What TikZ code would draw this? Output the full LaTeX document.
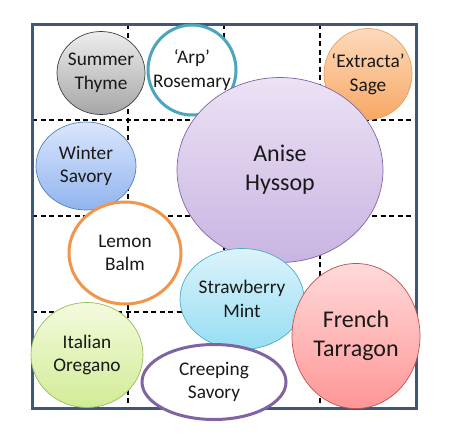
\documentclass[tikz,border=0pt]{standalone}
\usepackage{fontspec}
\setmainfont{Carlito}
\usetikzlibrary{shapes.geometric}
\definecolor{framec}{RGB}{62,88,122}
\tikzset{
  gridline/.style={black, line width=1.1pt, dash pattern=on 5pt off 3.5pt},
  blob/.style={ellipse, inner sep=0pt},
  lbl/.style={align=center, text=black!90, font=\fontsize{19.3}{23.5}\selectfont},
  biglbl/.style={align=center, text=black!90, font=\fontsize{24}{29}\selectfont},
}
\begin{document}
\begin{tikzpicture}[x=1pt,y=-1pt]
\useasboundingbox (0,0) rectangle (450,440);
% grid
\foreach \v in {128,224,320}{
  \draw[gridline] (\v,24) -- (\v,408);
  \draw[gridline] (32,\v-8) -- (416,\v-8);
}
% frame
\draw[framec, line width=3pt] (32,24) rectangle (416,408);
% circles
\node[blob, draw=black!75, line width=0.7pt, top color=black!7, bottom color=black!35, minimum width=88pt, minimum height=83pt] (thyme) at (101,73) {};
\node[lbl] at (thyme) {Summer\\Thyme};
\node[blob, draw={rgb,255:red,75;green,165;blue,190}, line width=3pt, fill=white, minimum width=88pt, minimum height=90pt] (rosemary) at (192,70) {};
\node[lbl] at (rosemary) {‘Arp’\\Rosemary};
\node[blob, draw={rgb,255:red,230;green,160;blue,100}, line width=0.7pt, top color={rgb,255:red,253;green,218;blue,188}, bottom color={rgb,255:red,247;green,168;blue,100}, minimum width=88pt, minimum height=91pt] (sage) at (368,74) {};
\node[lbl] at (sage) {‘Extracta’\\Sage};
\node[blob, draw={rgb,255:red,128;green,100;blue,162}, line width=0.7pt, top color={rgb,255:red,236;green,226;blue,245}, bottom color={rgb,255:red,200;green,180;blue,226}, minimum width=206pt, minimum height=185pt] (hyssop) at (280,170) {};
\node[biglbl] at (hyssop) {Anise\\Hyssop};
\node[blob, draw={rgb,255:red,79;green,129;blue,189}, line width=0.7pt, top color={rgb,255:red,218;green,230;blue,252}, bottom color={rgb,255:red,145;green,180;blue,238}, minimum width=100pt, minimum height=88pt] (winter) at (86,166) {};
\node[lbl] at (winter) {Winter\\Savory};
\node[blob, draw={rgb,255:red,240;green,150;blue,75}, line width=3pt, fill=white, minimum width=112pt, minimum height=102pt] (lemon) at (125,253) {};
\node[lbl] at (lemon) {Lemon\\Balm};
\node[blob, draw={rgb,255:red,75;green,172;blue,198}, line width=0.7pt, top color={rgb,255:red,220;green,243;blue,251}, bottom color={rgb,255:red,150;green,222;blue,243}, minimum width=124pt, minimum height=101pt] (mint) at (242,299) {};
\node[lbl] at (mint) {Strawberry\\Mint};
\node[blob, draw={rgb,255:red,155;green,187;blue,89}, line width=0.7pt, top color={rgb,255:red,243;green,250;blue,222}, bottom color={rgb,255:red,210;green,236;blue,150}, minimum width=112pt, minimum height=105pt] (oregano) at (87,355) {};
\node[lbl] at (oregano) {Italian\\Oregano};
\node[blob, draw={rgb,255:red,128;green,100;blue,162}, line width=3pt, fill=white, minimum width=144pt, minimum height=75pt] (creeping) at (214,382) {};
\node[lbl] at (creeping) {Creeping\\Savory};
\node[blob, draw={rgb,255:red,192;green,80;blue,77}, line width=0.7pt, top color={rgb,255:red,255;green,218;blue,218}, bottom color={rgb,255:red,255;green,150;blue,150}, minimum width=128pt, minimum height=145pt] (tarragon) at (356,336) {};
\node[biglbl] at (tarragon) {French\\Tarragon};
\end{tikzpicture}
\end{document}
